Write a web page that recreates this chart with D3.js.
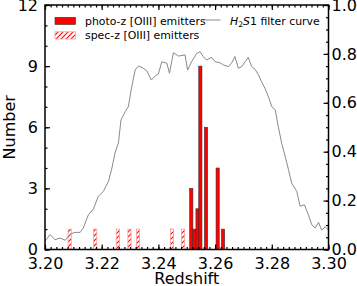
<!DOCTYPE html>
<html><head><meta charset="utf-8">
<script src="https://cdn.jsdelivr.net/npm/d3@7"></script>
<style>body{margin:0;background:#fff}svg{display:block;font-family:"DejaVu Sans",sans-serif}</style>
</head><body><svg id="c" width="357" height="286"></svg>
<script>
// ---- data ----
const photoZ = [3.2516, 3.2527, 3.2538, 3.2548, 3.2568, 3.2609, 3.2628];
const photoCount = [3, 1, 2, 9, 6, 4, 1];
const specZ = [3.2087, 3.2177, 3.2257, 3.2298, 3.2328, 3.2448, 3.2487];
const specCount = [1, 1, 1, 1, 1, 1, 1];
const binWidth = 0.00113;
const filterZ = [3.2000,3.2018,3.2035,3.2053,3.2071,3.2082,3.2094,3.2106,3.2124,3.2135,3.2153,3.2171,3.2188,3.2206,3.2224,3.2236,3.2247,3.2259,3.2268,3.2283,3.2294,3.2306,3.2318,3.2330,3.2347,3.2359,3.2375,3.2389,3.2400,3.2412,3.2430,3.2439,3.2453,3.2471,3.2494,3.2503,3.2517,3.2535,3.2547,3.2558,3.2570,3.2588,3.2600,3.2617,3.2629,3.2647,3.2658,3.2670,3.2682,3.2694,3.2706,3.2717,3.2729,3.2741,3.2753,3.2764,3.2776,3.2788,3.2800,3.2812,3.2823,3.2835,3.2847,3.2859,3.2870,3.2888,3.2900,3.2915,3.2929,3.2941,3.2953,3.2965,3.2976,3.2988,3.3000];
const filterT = [0.034,0.061,0.040,0.047,0.038,0.054,0.065,0.070,0.070,0.088,0.142,0.166,0.218,0.238,0.279,0.333,0.395,0.436,0.530,0.564,0.584,0.666,0.734,0.751,0.741,0.731,0.693,0.710,0.718,0.768,0.762,0.721,0.805,0.791,0.796,0.734,0.768,0.802,0.809,0.789,0.775,0.786,0.768,0.764,0.755,0.748,0.762,0.789,0.741,0.748,0.768,0.786,0.748,0.737,0.714,0.686,0.659,0.625,0.584,0.571,0.502,0.434,0.381,0.326,0.272,0.238,0.177,0.183,0.142,0.101,0.088,0.111,0.079,0.093,0.079];
const leftTicks = [0, 3, 6, 9, 12];
const rightTicks = [0, 0.2, 0.4, 0.6, 0.8, 1.0];
const xTicks = [3.20, 3.22, 3.24, 3.26, 3.28, 3.30];

// ---- layout ----
const L = 45, R = 328.5, T = 5, B = 249.5;
const svg = d3.select("#c");
const x = d3.scaleLinear().domain([3.2, 3.3]).range([L, R]);
const yL = d3.scaleLinear().domain([0, 12]).range([B, T]);
const yR = d3.scaleLinear().domain([0, 1]).range([B, T]);

const defs = svg.append("defs");
const pat = defs.append("pattern").attr("id", "hatch").attr("patternUnits", "userSpaceOnUse")
  .attr("width", 5).attr("height", 5);
pat.append("path").attr("d", "M-1,1 l2,-2 M0,5 l5,-5 M4,6 l2,-2")
  .attr("stroke", "#ff0000").attr("stroke-width", 1.1);

// spec-z hatched bars
svg.append("g").selectAll("rect").data(specZ).join("rect")
  .attr("x", (d) => x(d - binWidth / 2))
  .attr("width", (d) => x(d + binWidth / 2) - x(d - binWidth / 2))
  .attr("y", (d, i) => yL(specCount[i]))
  .attr("height", (d, i) => yL(0) - yL(specCount[i]))
  .attr("fill", "url(#hatch)").attr("stroke", "#ff9a9a").attr("stroke-width", 0.8);

// photo-z bars
svg.append("g").selectAll("rect").data(photoZ).join("rect")
  .attr("x", (d) => x(d - binWidth / 2))
  .attr("width", (d) => x(d + binWidth / 2) - x(d - binWidth / 2))
  .attr("y", (d, i) => yL(photoCount[i]))
  .attr("height", (d, i) => yL(0) - yL(photoCount[i]))
  .attr("fill", "#ff0000").attr("stroke", "#333").attr("stroke-width", 0.6);

// filter curve
svg.append("path").datum(filterZ.map((z, i) => [z, filterT[i]]))
  .attr("d", d3.line().x((d) => x(d[0])).y((d) => yR(d[1])))
  .attr("fill", "none").attr("stroke", "#8a8a8a").attr("stroke-width", 1);

// axes
const fs = "16px";
function style(g) { g.select(".domain").remove(); g.selectAll("line").attr("stroke", "#000").attr("stroke-width", 1.2); g.selectAll("text").attr("font-size", fs).attr("fill", "#000").attr("font-family", "DejaVu Sans"); }

const xMinor = d3.range(3.2, 3.3001, 0.002);
svg.append("g").attr("transform", `translate(0,${B})`).call(d3.axisBottom(x).tickValues(xMinor).tickSize(-2.5).tickFormat("")).call(style);
svg.append("g").attr("transform", `translate(0,${B})`).call(d3.axisBottom(x).tickValues(xTicks).tickSize(-5).tickPadding(8).tickFormat(d3.format(".2f"))).call(style);
svg.append("g").attr("transform", `translate(0,${T})`).call(d3.axisTop(x).tickValues(xMinor).tickSize(-2.5).tickFormat("")).call(style);
svg.append("g").attr("transform", `translate(0,${T})`).call(d3.axisTop(x).tickValues(xTicks).tickSize(-5).tickFormat("")).call(style);

svg.append("g").attr("transform", `translate(${L},0)`).call(d3.axisLeft(yL).tickValues(d3.range(0, 13, 1)).tickSize(-2.5).tickFormat("")).call(style);
svg.append("g").attr("transform", `translate(${L},0)`).call(d3.axisLeft(yL).tickValues(leftTicks).tickSize(-5).tickPadding(7).tickFormat(d3.format("d"))).call(style);
svg.append("g").attr("transform", `translate(${R},0)`).call(d3.axisRight(yR).tickValues(d3.range(0, 1.0001, 0.05)).tickSize(-2.5).tickFormat("")).call(style);
svg.append("g").attr("transform", `translate(${R},0)`).call(d3.axisRight(yR).tickValues(rightTicks).tickSize(-5).tickPadding(3).tickFormat(d3.format(".1f"))).call(style);

svg.append("rect").attr("x", L).attr("y", T).attr("width", R - L).attr("height", B - T)
  .attr("fill", "none").attr("stroke", "#000").attr("stroke-width", 1.5);

// axis titles
svg.append("text").attr("x", (L + R) / 2).attr("y", 283.5).attr("text-anchor", "middle").attr("font-size", fs).text("Redshift");
svg.append("text").attr("transform", `translate(15,${(T + B) / 2}) rotate(-90)`).attr("text-anchor", "middle").attr("font-size", fs).text("Number");

// legend
const lf = "10.9px";
svg.append("rect").attr("x", 55).attr("y", 17.3).attr("width", 20.5).attr("height", 7.2).attr("fill", "#ff0000").attr("stroke", "#333").attr("stroke-width", 0.6);
svg.append("text").attr("x", 85).attr("y", 24.6).attr("font-size", lf).text("photo-z [OIII] emitters");
svg.append("rect").attr("x", 55).attr("y", 31.8).attr("width", 20.5).attr("height", 7.2).attr("fill", "url(#hatch)").attr("stroke", "#ff9a9a").attr("stroke-width", 0.8);
svg.append("text").attr("x", 85).attr("y", 39.1).attr("font-size", lf).text("spec-z [OIII] emitters");
svg.append("line").attr("x1", 203).attr("x2", 220.5).attr("y1", 20).attr("y2", 20).attr("stroke", "#8a8a8a").attr("stroke-width", 1);
const lt = svg.append("text").attr("x", 230).attr("y", 24.6).attr("font-size", lf);
lt.append("tspan").attr("font-style", "italic").text("H");
lt.append("tspan").attr("font-size", "7.7px").attr("dy", 2).text("2");
lt.append("tspan").attr("font-style", "italic").attr("dy", -2).text("S");
lt.append("tspan").text("1 filter curve");
</script></body></html>
